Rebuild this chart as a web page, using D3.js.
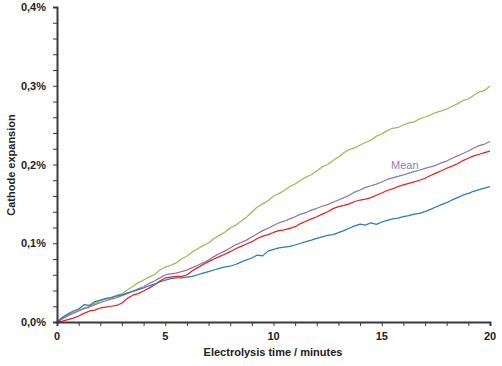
<!DOCTYPE html>
<html><head><meta charset="utf-8">
<script src="https://cdn.jsdelivr.net/npm/d3@7"></script>
<style>body{margin:0;background:#fff}svg{display:block}</style>
</head><body>
<svg id="c" width="502" height="366"></svg>
<script>
const times = [0,0.25,0.5,0.75,1,1.25,1.5,1.75,2,2.25,2.5,2.75,3,3.25,3.5,3.75,4,4.25,4.5,4.75,5,5.25,5.5,5.75,6,6.25,6.5,6.75,7,7.25,7.5,7.75,8,8.25,8.5,8.75,9,9.25,9.5,9.75,10,10.25,10.5,10.75,11,11.25,11.5,11.75,12,12.25,12.5,12.75,13,13.25,13.5,13.75,14,14.25,14.5,14.75,15,15.25,15.5,15.75,16,16.25,16.5,16.75,17,17.25,17.5,17.75,18,18.25,18.5,18.75,19,19.25,19.5,19.75,20];
const greenSeries = [0,.005,.009,.012, .0152,.018,.020,.024, .027,.029,.031,.034, .0356,.041,.045,.050, .0533,.057,.060,.066, .0698,.072,.075,.080, .0838,.089,.093,.097, .1003,.106,.110,.114, .1194,.123,.128,.133, .1397,.146,.150,.154, .160,.163,.167,.172, .1752,.180,.184,.187, .1917,.197,.200,.205, .2095,.215,.219,.221, .2248,.228,.231,.236, .2387,.243,.246,.247, .2502,.253,.254,.258, .2603,.263,.266,.268, .2705,.274,.277,.281, .2832,.288,.292,.294, .2997];
const meanSeries = [0,.004,.008,.011, .014,.017,.019,.022, .0245,.027,.029,.031, .0334,.036,.039,.042, .0448,.049,.052,.056, .0597,.061,.062,.064, .066,.069,.072,.075, .0787,.083,.087,.090, .094,.098,.101,.104, .1079,.112,.116,.119, .1225,.126,.128,.131, .1337,.137,.139,.142, .1444,.147,.149,.152, .1549,.158,.161,.165, .1676,.171,.173,.175, .1778,.181,.183,.185, .1867,.189,.191,.193, .1952,.197,.199,.202, .2044,.208,.211,.214, .2171,.221,.224,.226, .2292];
const redSeries = [0,.001,.003,.005, .0076,.011,.014,.015, .0178,.019,.020,.021, .0241,.030,.034,.036, .0394,.043,.047,.052, .0559,.057,.058,.058, .0597,.065,.069,.073, .0766,.080,.083,.086, .0893,.093,.096,.099, .102,.106,.109,.111, .1137,.116,.117,.119, .121,.125,.128,.131, .1337,.137,.140,.144, .1464,.148,.150,.153, .1549,.156,.158,.161, .1638,.167,.169,.172, .174,.176,.178,.180, .1825,.186,.189,.192, .1952,.198,.201,.205, .2079,.211,.213,.215, .2171];
const blueSeries = [0,.006,.010,.014, .0165,.022,.021,.026, .0279,.030,.031,.033, .0343,.037,.039,.041, .0432,.046,.048,.051, .0533,.055,.056,.056, .0571,.058,.060,.062, .0639,.066,.068,.070, .0711,.073,.076,.079, .0813,.085,.084,.090, .0921,.094,.095,.096, .0978,.100,.102,.104, .1063,.108,.110,.111, .1134,.116,.119,.122, .1244,.123,.126,.124, .127,.129,.131,.132, .1337,.135,.137,.138, .1401,.143,.146,.149, .1515,.155,.158,.161, .1634,.166,.168,.170, .1718];
const xTicks = [0,5,10,15,20];
const yTicks = [0,0.1,0.2,0.3,0.4];
const seriesColors = ["#9BBB59","#8C74AE","#F21C1C","#2A7ABF"];
const seriesValues = [greenSeries, meanSeries, redSeries, blueSeries];

const svg = d3.select("#c");
const x = d3.scaleLinear().domain([0,20]).range([57,490]);
const y = d3.scaleLinear().domain([0,0.4]).range([322,7]);
const axisColor = "#3a3a3a";
const font = "'Liberation Sans', Arial, sans-serif";

const line = d3.line().x((d,i)=>x(times[i])).y(d=>y(d));
seriesValues.forEach((vals,k)=>{
  svg.append("path").datum(vals).attr("d",line)
    .attr("fill","none").attr("stroke",seriesColors[k]).attr("stroke-width",1.25)
    .attr("stroke-linejoin","round");
});

const yAxisG = svg.append("g").attr("transform","translate(57,0)");
yAxisG.call(d3.axisLeft(y).tickValues(d3.range(0,0.4001,0.02)).tickSize(4).tickFormat(""));
yAxisG.selectAll("line").attr("stroke",axisColor).attr("stroke-width",1);
yAxisG.select(".domain").attr("stroke",axisColor).attr("stroke-width",2);
svg.append("g").selectAll("text").data(yTicks).join("text")
  .attr("x",46).attr("y",d=>y(d)+4).attr("text-anchor","end")
  .attr("font-family",font).attr("font-weight","bold").attr("font-size",11).attr("fill","#222")
  .text(d=>d.toFixed(1).replace(".",",")+"%");

const xAxisG = svg.append("g").attr("transform","translate(0,322)");
xAxisG.call(d3.axisBottom(x).tickValues(d3.range(0,21,1)).tickSize(4).tickFormat(""));
xAxisG.selectAll("line").attr("stroke",axisColor).attr("stroke-width",1);
xAxisG.select(".domain").attr("stroke",axisColor).attr("stroke-width",2);
svg.append("g").selectAll("text").data(xTicks).join("text")
  .attr("x",d=>x(d)).attr("y",340).attr("text-anchor","middle")
  .attr("font-family",font).attr("font-weight","bold").attr("font-size",11).attr("fill","#222")
  .text(d=>d);

svg.append("text").attr("x",273).attr("y",356).attr("text-anchor","middle")
  .attr("font-family",font).attr("font-weight","bold").attr("font-size",11).attr("fill","#222")
  .text("Electrolysis time / minutes");
svg.append("text").attr("transform","translate(15,165) rotate(-90)").attr("text-anchor","middle")
  .attr("font-family",font).attr("font-weight","bold").attr("font-size",11).attr("fill","#222")
  .text("Cathode expansion");

svg.append("text").attr("x",391).attr("y",169)
  .attr("font-family",font).attr("font-size",11).attr("fill","#8C7BB5")
  .text("Mean");
</script>
</body></html>
